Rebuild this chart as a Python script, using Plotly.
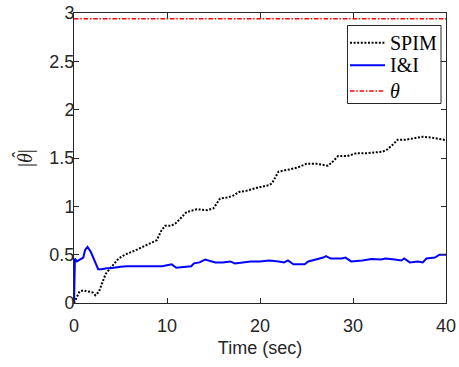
import plotly.graph_objects as go

# SPIM estimate (black dotted)
t_spim = [0, 0.3, 0.6, 1.0, 1.5, 2.0, 2.3, 2.7, 3.0, 3.4, 3.9, 4.3, 4.8, 5.3, 5.7, 6.5, 7.4, 8.2, 8.9, 9.4,
          9.8, 10.5, 11.0, 11.6, 12.1, 13.2, 14.3, 15.0, 15.7, 16.4, 17.1, 17.8, 18.5, 19.6, 21.0, 21.3,
          22.0, 23.1, 24.0, 25.0, 26.1, 27.3, 27.8, 28.4, 29.4, 30.4, 31.5, 33.2, 33.7, 34.3, 34.8, 35.7,
          36.5, 37.5, 38.5, 39.3, 40.0]
v_spim = [0, 0.06, 0.12, 0.13, 0.12, 0.11, 0.08, 0.12, 0.20, 0.30, 0.36, 0.41, 0.46, 0.49, 0.51, 0.54,
          0.58, 0.62, 0.65, 0.75, 0.80, 0.80, 0.83, 0.89, 0.94, 0.97, 0.96, 0.98, 1.08, 1.09, 1.11, 1.15,
          1.16, 1.19, 1.22, 1.24, 1.36, 1.38, 1.40, 1.44, 1.44, 1.42, 1.46, 1.52, 1.52, 1.55, 1.55, 1.565,
          1.59, 1.64, 1.69, 1.69, 1.70, 1.72, 1.71, 1.70, 1.685]

# I&I estimate (blue solid)
t_ii = [0, 0.1, 0.3, 0.6, 1.0, 1.2, 1.45, 1.8, 2.2, 2.6, 3.0, 3.5, 3.9, 4.5, 5.0, 5.7, 6.5, 7.5, 8.3, 8.9,
        9.5, 10.0, 10.5, 11.0, 11.5, 12.2, 12.6, 12.9, 13.5, 14.1, 14.6, 15.2, 16.0, 16.8, 17.3, 18.0,
        19.0, 20.0, 21.0, 22.0, 22.6, 23.0, 23.6, 24.3, 24.8, 25.2, 26.1, 26.8, 27.1, 27.6, 28.3, 28.8,
        29.2, 29.8, 31.0, 32.0, 33.0, 33.5, 34.5, 35.2, 35.5, 36.1, 37.0, 37.5, 37.9, 38.8, 39.3, 40.0]
v_ii = [0, 0.46, 0.43, 0.45, 0.47, 0.55, 0.58, 0.53, 0.43, 0.35, 0.35, 0.36, 0.36, 0.37, 0.375, 0.38,
        0.38, 0.385, 0.38, 0.385, 0.38, 0.39, 0.40, 0.365, 0.37, 0.37, 0.38, 0.41, 0.42, 0.45, 0.44, 0.42,
        0.42, 0.43, 0.41, 0.42, 0.43, 0.43, 0.44, 0.43, 0.42, 0.44, 0.40, 0.40, 0.40, 0.43, 0.45, 0.47,
        0.485, 0.46, 0.46, 0.46, 0.47, 0.43, 0.44, 0.455, 0.45, 0.46, 0.45, 0.44, 0.46, 0.42, 0.43, 0.42,
        0.46, 0.47, 0.50, 0.50]

# true parameter (red dash-dot)
t_theta = [0, 40]
v_theta = [2.94, 2.94]

series_names = ["SPIM", "I&amp;I", "<i>θ</i>"]

x_ticks = [0, 10, 20, 30, 40]
y_ticks = [0, 0.5, 1, 1.5, 2, 2.5, 3]
y_tick_text = ["0", "0.5", "1", "1.5", "2", "2.5", "3"]

styles = [dict(color="black", width=2, dash="2px,1.6px"),
          dict(color="#0000ff", width=2),
          dict(color="#ff0000", width=1.5, dash="4.5px,1.8px,1.5px,1.8px")]

fig = go.Figure()
for (tx, vy), name, st in zip([(t_spim, v_spim), (t_ii, v_ii), (t_theta, v_theta)], series_names, styles):
    fig.add_trace(go.Scatter(x=tx, y=vy, mode="lines", name=name, line=st, showlegend=False))

tick_font = dict(family="Liberation Sans, Arial, sans-serif", size=18, color="#262626")
axis_common = dict(showline=True, linecolor="#262626", linewidth=1, mirror="allticks",
                   ticks="inside", ticklen=5, tickcolor="#262626", showgrid=False, zeroline=False,
                   automargin=False, tickfont=tick_font)

# legend box drawn in paper coordinates (MATLAB-style legend)
lg_x0, lg_x1, lg_y0, lg_y1 = 0.7352, 0.9866, 0.6879, 0.9569
row_y = [0.8976, 0.8197, 0.7310]
sample_x0, sample_x1, text_x = 0.7419, 0.8360, 0.8441

shapes = [dict(type="rect", xref="paper", yref="paper", x0=lg_x0, x1=lg_x1, y0=lg_y0, y1=lg_y1,
               line=dict(color="#262626", width=1), fillcolor="white", layer="above")]
annotations = []
for tr, ry in zip(fig.data, row_y):
    ln = dict(color=tr.line.color, width=tr.line.width)
    if tr.line.dash:
        ln["dash"] = tr.line.dash
    shapes.append(dict(type="line", xref="paper", yref="paper", x0=sample_x0, x1=sample_x1,
                       y0=ry, y1=ry, line=ln, layer="above"))
    annotations.append(dict(text=tr.name, xref="paper", yref="paper", x=text_x, y=ry,
                            xanchor="left", yanchor="middle", showarrow=False,
                            font=dict(family="Liberation Serif, serif", size=20, color="black")))

# y-axis label |theta-hat|
annotations.append(dict(text="|<i>θ</i>|", xref="paper", yref="paper", x=-0.1317, y=0.5,
                        textangle=-90, showarrow=False, xanchor="center", yanchor="middle",
                        font=dict(family="Liberation Serif, serif", size=20, color="#262626")))
annotations.append(dict(text="ˆ", xref="paper", yref="paper", x=-0.1500, y=0.512,
                        textangle=-90, showarrow=False, xanchor="center", yanchor="middle",
                        font=dict(family="Liberation Serif, serif", size=18, color="#262626")))

fig.update_layout(
    width=459, height=367,
    margin=dict(l=74, r=13, t=13, b=64),
    paper_bgcolor="white", plot_bgcolor="white",
    xaxis=dict(range=[0, 40], tickvals=x_ticks, ticklabelstandoff=6, **axis_common,
               title=dict(text="Time (sec)", standoff=6, font=tick_font)),
    yaxis=dict(range=[0, 3], tickvals=y_ticks, ticktext=y_tick_text, ticklabelstandoff=-5, **axis_common),
    shapes=shapes,
    annotations=annotations,
    showlegend=False,
)

fig.write_html("out.html")
